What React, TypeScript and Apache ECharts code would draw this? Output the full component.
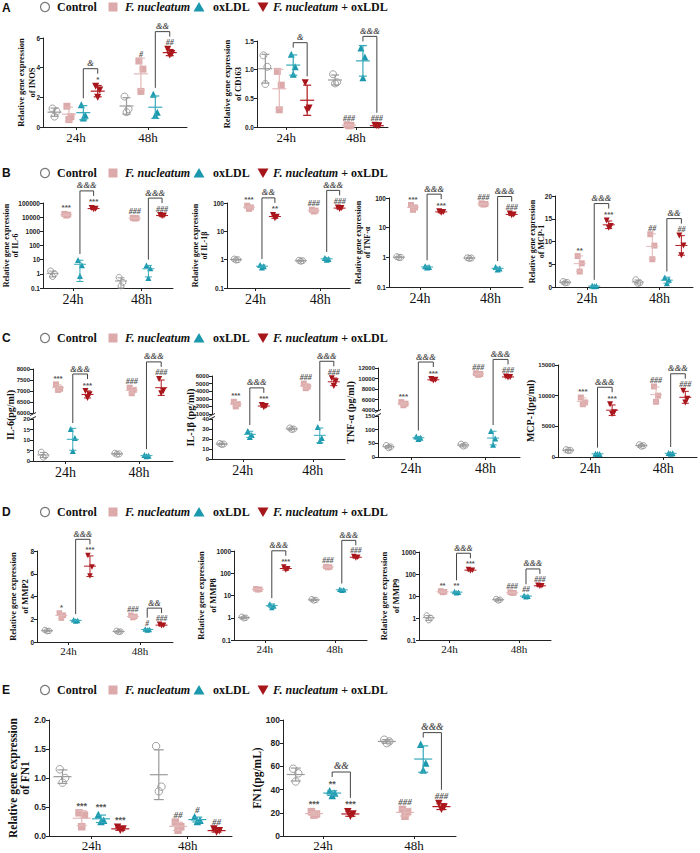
import React, { useEffect, useRef } from 'react';
import * as echarts from 'echarts';

// ---------------- data ----------------
const GROUPS = ['Control', 'F. nucleatum', 'oxLDL', 'F. nucleatum + oxLDL'];
const TIMES = ['24h', '48h'];
const ROW_LETTERS = ['A', 'B', 'C', 'D', 'E'];

const inosVals = [[1.25, 1.05, 0.7], [1.4, 0.7, 0.5], [1.5, 0.8, 0.6], [2.75, 2.5, 2.0], [2.05, 1.2, 1.0], [4.45, 3.9, 2.4], [2.2, 1.0, 0.8], [5.25, 4.95, 4.85]];
const inosMarks = ['', '', '', '*', '', '#', '', '##'];
const inosBr = ['&', '&&'];

const cd163Vals = [[1.25, 1.05, 0.75], [0.97, 0.73, 0.3], [1.27, 1.05, 0.92], [0.77, 0.33, 0.3], [0.92, 0.78, 0.76], [0.04, 0.03, 0.02], [1.38, 1.22, 0.86], [0.03, 0.02, 0.02]];
const cd163Marks = ['', '', '', '', '', '###', '', '###'];
const cd163Br = ['&', '&&&'];

const il6Vals = [[1.6, 1.0, 0.65], [17000, 15000, 13000], [9.5, 4.0, 0.7], [45000, 40000, 36000], [0.55, 0.25, 0.14], [9000, 8500, 8000], [3.8, 2.5, 0.5], [14000, 13000, 12000]];
const il6Marks = ['', '***', '', '***', '', '###', '', '###'];
const il6Br = ['&&&', '&&&'];

const il1bVals = [[1.05, 1.0, 0.97], [80, 70, 62], [0.65, 0.58, 0.53], [38, 33, 29], [0.95, 0.92, 0.88], [58, 54, 50], [1.15, 1.05, 1.0], [70, 66, 62]];
const il1bMarks = ['', '***', '', '**', '', '###', '', '###'];
const il1bBr = ['&&', '&&&'];

const tnfVals = [[1.05, 1.0, 0.98], [58, 48, 40], [0.5, 0.47, 0.45], [36, 34, 32], [0.97, 0.95, 0.92], [66, 63, 60], [0.47, 0.42, 0.39], [30, 28, 26]];
const tnfMarks = ['', '***', '', '***', '', '###', '', '###'];
const tnfBr = ['&&&', '&&&'];

const mcp1Vals = [[1.2, 1.0, 0.9], [6.8, 5.2, 3.4], [0.25, 0.2, 0.15], [14.6, 13.4, 13.0], [1.6, 0.9, 0.8], [11.6, 9.1, 6.1], [2.1, 1.6, 0.8], [11.3, 9.1, 7.0]];
const mcp1Marks = ['', '**', '', '***', '', '##', '', '##'];
const mcp1Br = ['&&&', '&&'];

const il6pgVals = [[4.2, 2.6, 1.8], [7300, 7100, 7050], [15.2, 11.0, 4.8], [7000, 6850, 6680], [3.7, 3.4, 3.2], [7150, 7050, 6900], [2.8, 2.5, 2.3], [7550, 7000, 6900]];
const il6pgMarks = ['', '***', '', '***', '', '###', '', '###'];
const il6pgBr = ['&&&', '&&&'];

const il1bpgVals = [[15.5, 15, 14.5], [2600, 2300, 2000], [28, 24, 22], [2200, 2050, 1900], [31, 30, 29.5], [5000, 4600, 4400], [32, 21, 18], [5700, 5300, 4700]];
const il1bpgMarks = ['', '***', '', '***', '', '###', '', '###'];
const il1bpgBr = ['&&&', '&&&'];

const tnfpgVals = [[42, 37, 34], [5500, 5200, 4900], [75, 70, 66], [9900, 9750, 9600], [47, 43, 40], [11000, 10850, 10700], [95, 68, 45], [10400, 10300, 10200]];
const tnfpgMarks = ['', '***', '', '***', '', '###', '', '###'];
const tnfpgBr = ['&&&', '&&&'];

const mcp1pgVals = [[1200, 1100, 1050], [9700, 8900, 8600], [550, 500, 480], [8600, 7300, 7000], [2000, 1850, 1750], [11500, 10000, 9000], [650, 600, 550], [10800, 9500, 8900]];
const mcp1pgMarks = ['', '***', '', '***', '', '###', '', '###'];
const mcp1pgBr = ['&&&', '&&&'];

const mmp2Vals = [[1.05, 0.98, 0.95], [2.55, 2.35, 2.1], [1.95, 1.9, 1.85], [7.6, 6.6, 5.8], [0.98, 0.92, 0.88], [2.35, 2.25, 2.15], [1.15, 1.1, 1.05], [1.55, 1.48, 1.42]];
const mmp2Marks = ['', '*', '', '***', '', '###', '#', '###'];
const mmp2Br = ['&&&', '&&'];

const mmp8Vals = [[1.1, 1.0, 0.95], [20, 19, 18], [4.2, 3.4, 2.9], [190, 160, 140], [6.8, 6.3, 6.0], [200, 190, 180], [19, 18, 17], [560, 520, 490]];
const mmp8Marks = ['', '', '', '***', '', '###', '', '###'];
const mmp8Br = ['&&&', '&&&'];

const mmp9Vals = [[1.3, 1.0, 0.8], [17, 15.5, 14.5], [16, 15, 14], [160, 150, 140], [7.3, 6.8, 6.3], [15, 14, 13.5], [10.5, 9.8, 9.3], [31, 29, 27.5]];
const mmp9Marks = ['', '**', '**', '***', '', '###', '##', '###'];
const mmp9Br = ['&&&', '&&&'];

const fn1Vals = [[1.15, 1.0, 0.92], [0.4, 0.36, 0.16], [0.37, 0.27, 0.25], [0.15, 0.12, 0.1], [1.55, 0.85, 0.77], [0.24, 0.16, 0.1], [0.33, 0.27, 0.25], [0.12, 0.09, 0.07]];
const fn1Marks = ['', '***', '***', '***', '', '##', '#', '##'];
const fn1Br = ['', ''];

const fn1pgVals = [[58, 54, 47], [21, 19, 18], [39, 37, 35], [21, 19, 17], [83, 81.5, 80], [23, 21, 17], [79, 63, 57], [28, 25, 23]];
const fn1pgMarks = ['', '***', '**', '***', '', '###', '', '###'];
const fn1pgBr = ['&&', '&&&'];

// ---------------- styles ----------------
const SERIF = '"Times New Roman", "Liberation Serif", "DejaVu Serif", serif';
const SANS = 'Arial, "Liberation Sans", Helvetica, sans-serif';
const PT_COLORS = ['#8a8a8a', '#dcaaaa', '#1b98ad', '#a5151a'];
const BAR_COLORS = ['#9a9a9a', '#e3b8b8', '#35a9bb', '#b0191f'];
const SYMBOLS = ['circle', 'rect', 'triangle', 'path://M0,0 L10,0 L5,9 Z'];
const JITTER = [-0.14, 0.14, 0];
const LEGEND_Y = [7, 173, 338, 512, 690];

const STY_A = { xfs: 13, yfs: 6.5, mfs: 8, sym: 7, mhw: 7, chw: 4, ylabFs: 8.5, ylabLh: 11, lw: 1.2, xlm: 4 };
const STY_B = { xfs: 14, yfs: 6.5, mfs: 8, sym: 6, mhw: 6, chw: 3.5, ylabFs: 8, ylabLh: 9.5, lw: 1, xlm: 4 };
const STY_C = { ...STY_B, yfs: 6, ylabFs: 10, ylabLh: 11 };
const STY_D = { xfs: 11, yfs: 6.5, mfs: 7.5, sym: 5.5, mhw: 6, chw: 3.5, ylabFs: 8.5, ylabLh: 12, lw: 1, xlm: 3 };
const STY_E = { xfs: 13, yfs: 8.5, mfs: 9, sym: 7.5, mhw: 9, chw: 5, ylabFs: 11.5, ylabLh: 12.5, lw: 1.2, xlm: 3 };

const fix1 = (v: number) => Number(v).toFixed(1);

const PANELS: any[] = [
  { vals: inosVals, marks: inosMarks, br: inosBr, left: 43, right: 187, xmin: 0.2, xmax: 10.2, segs: [{ top: 38, bottom: 127, min: 0, max: 6, interval: 2 }], ylab: 'Relative gene expression\nof INOS', ylabX: 26, ...STY_A },
  { vals: cd163Vals, marks: cd163Marks, br: cd163Br, left: 257, right: 388, xmin: 0.4, xmax: 9.8, fmt: fix1, segs: [{ top: 41, bottom: 127, min: 0, max: 1.5, interval: 0.5 }], ylab: 'Relative gene expression\nof CD163', ylabX: 232, ...STY_A },
  { vals: il6Vals, marks: il6Marks, br: il6Br, left: 43, right: 173, segs: [{ top: 203, bottom: 288, min: 0.1, max: 100000, log: true }], ylab: 'Relative gene expression\nof IL-6', ylabX: 11, ...STY_B, ylabLh: 9 },
  { vals: il1bVals, marks: il1bMarks, br: il1bBr, left: 227, right: 350, segs: [{ top: 203, bottom: 288, min: 0.1, max: 100, log: true }], ylab: 'Relative gene expression\nof IL-1β', ylabX: 200, ...STY_B },
  { vals: tnfVals, marks: tnfMarks, br: tnfBr, left: 389, right: 523, segs: [{ top: 198, bottom: 287, min: 0.1, max: 100, log: true }], ylab: 'Relative gene expression\nof TNF-α', ylabX: 363, ...STY_B },
  { vals: mcp1Vals, marks: mcp1Marks, br: mcp1Br, left: 555, right: 693, segs: [{ top: 196, bottom: 287, min: 0, max: 20, interval: 5 }], ylab: 'Relative gene expression\nof MCP-1', ylabX: 537, ...STY_B },
  { vals: il6pgVals, marks: il6pgMarks, br: il6pgBr, left: 33, right: 173, segs: [{ top: 369, bottom: 413, min: 6000, max: 8000, interval: 500 }, { top: 419, bottom: 461, min: 0, max: 20, interval: 5 }], ylab: 'IL-6(pg/ml)', ylabX: 10, ...STY_C },
  { vals: il1bpgVals, marks: il1bpgMarks, br: il1bpgBr, left: 212, right: 345, segs: [{ top: 376, bottom: 414, min: 1000, max: 6000, interval: 1000 }, { top: 419, bottom: 459, min: 0, max: 40, interval: 10 }], ylab: 'IL-1β (pg/ml)', ylabX: 190, ...STY_C },
  { vals: tnfpgVals, marks: tnfpgMarks, br: tnfpgBr, left: 378, right: 520, segs: [{ top: 368, bottom: 410, min: 4000, max: 12000, interval: 2000 }, { top: 416, bottom: 457, min: 0, max: 150, interval: 50 }], ylab: 'TNF-α (pg/ml)', ylabX: 350, ...STY_C },
  { vals: mcp1pgVals, marks: mcp1pgMarks, br: mcp1pgBr, left: 558, right: 697, segs: [{ top: 365, bottom: 457, min: 0, max: 15000, interval: 5000 }], ylab: 'MCP-1(pg/ml)', ylabX: 530, ...STY_C },
  { vals: mmp2Vals, marks: mmp2Marks, br: mmp2Br, left: 37, right: 173, segs: [{ top: 551, bottom: 642, min: 0, max: 8, interval: 2 }], ylab: 'Relative gene expression\nof MMP2', ylabX: 18.5, ...STY_D },
  { vals: mmp8Vals, marks: mmp8Marks, br: mmp8Br, left: 234, right: 367, segs: [{ top: 551, bottom: 640, min: 0.1, max: 1000, log: true }], ylab: 'Relative gene expression\nof MMP8', ylabX: 207, ...STY_D },
  { vals: mmp9Vals, marks: mmp9Marks, br: mmp9Br, left: 419, right: 551, segs: [{ top: 552, bottom: 640, min: 0.1, max: 1000, log: true }], ylab: 'Relative gene expression\nof MMP9', ylabX: 390, ...STY_D },
  { vals: fn1Vals, marks: fn1Marks, br: fn1Br, left: 49, right: 232, fmt: fix1, segs: [{ top: 720, bottom: 836, min: 0, max: 2, interval: 0.5 }], ylab: 'Relative gene expression\nof FN1', ylabX: 19, ...STY_E },
  { vals: fn1pgVals, marks: fn1pgMarks, br: fn1pgBr, left: 283, right: 456, segs: [{ top: 720, bottom: 836, min: 0, max: 100, interval: 20 }], ylab: 'FN1(pg/mL)', ylabX: 257, ...STY_E },
];

// ---------------- helpers ----------------
const pos = (t: number, g: number) => 1 + g + 5 * t;
const mean = (a: number[]) => a.reduce((s, v) => s + v, 0) / a.length;
const sdev = (a: number[]) => {
  const m = mean(a);
  return Math.sqrt(a.reduce((s, v) => s + (v - m) * (v - m), 0) / (a.length - 1));
};
const fmtDefault = (v: number) => String(parseFloat(Number(v).toPrecision(6)));

function makeRender(p: any) {
  return (params: any, api: any) => {
    const x = api.value(0), m = api.value(1), lo = api.value(2), hi = api.value(3), g = api.value(4);
    const c = api.coord([x, m]);
    const a = api.coord([x, hi]);
    const b = api.coord([x, lo]);
    const st = { stroke: BAR_COLORS[g], lineWidth: p.lw };
    return {
      type: 'group',
      children: [
        { type: 'line', shape: { x1: c[0] - p.mhw, y1: c[1], x2: c[0] + p.mhw, y2: c[1] }, style: st },
        { type: 'line', shape: { x1: c[0], y1: a[1], x2: c[0], y2: b[1] }, style: st },
        { type: 'line', shape: { x1: c[0] - p.chw, y1: a[1], x2: c[0] + p.chw, y2: a[1] }, style: st },
        { type: 'line', shape: { x1: c[0] - p.chw, y1: b[1], x2: c[0] + p.chw, y2: b[1] }, style: st },
      ],
    };
  };
}

function buildOption() {
  const grid: any[] = [], xAxis: any[] = [], yAxis: any[] = [], series: any[] = [];
  const segMaps: { gi: number[]; si: number[] }[] = [];
  PANELS.forEach((p) => {
    const gmap = new Array(8).fill(-1);
    const smap = new Array(8).fill(-1);
    const xmin = p.xmin ?? 0.3, xmax = p.xmax ?? 9.8;
    p.segs.forEach((s: any, si: number) => {
      const gi = grid.length;
      const isBottom = si === p.segs.length - 1;
      grid.push({ left: p.left, top: s.top, width: p.right - p.left, height: s.bottom - s.top, containLabel: false, outerBoundsMode: 'none' });
      xAxis.push({
        gridIndex: gi, type: 'value', min: xmin, max: xmax, show: isBottom,
        axisLine: { show: true, onZero: false, lineStyle: { color: '#222', width: 1 } },
        axisTick: { show: true, customValues: [2.5, 7.5], length: 3, lineStyle: { color: '#222' } },
        axisLabel: { customValues: [2.5, 7.5], formatter: (v: number) => (v < 5 ? TIMES[0] : TIMES[1]), fontFamily: SERIF, fontSize: p.xfs, color: '#111', margin: p.xlm },
        splitLine: { show: false },
      });
      yAxis.push({
        gridIndex: gi, type: s.log ? 'log' : 'value', min: s.min, max: s.max,
        ...(s.log ? { logBase: 10 } : { interval: s.interval }),
        axisLine: { show: true, onZero: false, lineStyle: { color: '#222', width: 1 } },
        axisTick: { show: true, length: 3, lineStyle: { color: '#222' } },
        axisLabel: { fontFamily: SANS, fontWeight: 'bold', fontSize: p.yfs, color: '#222', margin: 3, hideOverlap: false, showMinLabel: true, showMaxLabel: true, formatter: p.fmt || fmtDefault },
        splitLine: { show: false },
      });
      for (let i = 0; i < 8; i++) {
        const m = mean(p.vals[i]);
        if (p.segs.length === 1 || (m >= s.min && m <= s.max)) { gmap[i] = gi; smap[i] = si; }
      }
      for (let g = 0; g < 4; g++) {
        const data: number[][] = [];
        for (let t = 0; t < 2; t++) {
          const i = 4 * t + g;
          if (gmap[i] !== gi) continue;
          p.vals[i].forEach((v: number, k: number) => data.push([pos(t, g) + JITTER[k], v]));
        }
        series.push({
          type: 'scatter', name: GROUPS[g], xAxisIndex: gi, yAxisIndex: gi, data,
          symbol: SYMBOLS[g], symbolSize: p.sym, z: 2,
          itemStyle: g === 0
            ? { color: 'rgba(255,255,255,0)', borderColor: PT_COLORS[0], borderWidth: 1 }
            : { color: PT_COLORS[g], opacity: 1 },
          emphasis: { disabled: true },
        });
      }
      const bars: number[][] = [];
      for (let i = 0; i < 8; i++) {
        if (gmap[i] !== gi) continue;
        const t = Math.floor(i / 4), g = i % 4;
        const m = mean(p.vals[i]), d = sdev(p.vals[i]);
        bars.push([pos(t, g), m, Math.max(m - d, s.min), Math.min(m + d, s.max), g]);
      }
      series.push({ type: 'custom', xAxisIndex: gi, yAxisIndex: gi, data: bars, renderItem: makeRender(p), z: 3, silent: true, clip: false, encode: { x: 0, y: 1 } });
    });
    segMaps.push({ gi: gmap, si: smap });
  });
  return {
    option: { animation: false, textStyle: { fontFamily: SANS }, grid, xAxis, yAxis, series },
    segMaps,
  };
}

function buildGraphic(chart: any, segMaps: any[]) {
  const els: any[] = [];
  LEGEND_Y.forEach((y, r) => {
    els.push({ type: 'text', x: 2, y: r === 0 ? 8 : y, style: { text: ROW_LETTERS[r], fontFamily: SANS, fontWeight: 'bold', fontSize: 12, fill: '#111', verticalAlign: 'middle' } });
    els.push({ type: 'circle', shape: { cx: 45, cy: y, r: 4.5 }, style: { fill: '#fff', stroke: '#777', lineWidth: 1.2 } });
    els.push({ type: 'rect', shape: { x: 108.5, y: y - 4.5, width: 9, height: 9 }, style: { fill: PT_COLORS[1] } });
    els.push({ type: 'polygon', shape: { points: [[199, y - 5], [204.5, y + 4.5], [193.5, y + 4.5]] }, style: { fill: PT_COLORS[2] } });
    els.push({ type: 'polygon', shape: { points: [[257.5, y - 4.5], [268.5, y - 4.5], [263, y + 5]] }, style: { fill: PT_COLORS[3] } });
    const base = { fontFamily: SERIF, fontWeight: 'bold', fontSize: 12, fill: '#111', verticalAlign: 'middle' };
    els.push({ type: 'text', x: 57, y, style: { ...base, text: GROUPS[0] } });
    els.push({ type: 'text', x: 125, y, style: { ...base, fontStyle: 'italic', text: GROUPS[1] } });
    els.push({ type: 'text', x: 213, y, style: { ...base, text: GROUPS[2] } });
    els.push({
      type: 'text', x: 273, y,
      style: { ...base, text: '{i|F. nucleatum} + oxLDL', rich: { i: { fontFamily: SERIF, fontWeight: 'bold', fontStyle: 'italic', fontSize: 12, fill: '#111' } } },
    });
  });

  PANELS.forEach((p, pi) => {
    const { gi, si } = segMaps[pi];
    const top = p.segs[0].top, bot = p.segs[p.segs.length - 1].bottom;
    els.push({
      type: 'text', x: p.ylabX, y: (top + bot) / 2, rotation: Math.PI / 2,
      style: { text: p.ylab, fontFamily: SERIF, fontWeight: 'bold', fontSize: p.ylabFs, lineHeight: p.ylabLh, fill: '#111', align: 'center', verticalAlign: 'middle' },
    });
    if (p.segs.length > 1) {
      const x = p.left;
      const b = p.segs[0].bottom, t2 = p.segs[1].top;
      els.push({ type: 'line', shape: { x1: x - 3, y1: b + 2.5, x2: x + 3, y2: b - 0.5 }, style: { stroke: '#222', lineWidth: 1 } });
      els.push({ type: 'line', shape: { x1: x - 3, y1: t2 + 0.5, x2: x + 3, y2: t2 - 2.5 }, style: { stroke: '#222', lineWidth: 1 } });
    }
    const px = (i: number, x: number, v: number) => chart.convertToPixel({ gridIndex: gi[i] }, [x, v]);
    const topPx = (i: number) => {
      const t = Math.floor(i / 4), g = i % 4;
      const vals = p.vals[i];
      const s = p.segs[si[i]];
      const m = mean(vals), d = sdev(vals);
      const hi = Math.min(m + d, s.max);
      const y1 = px(i, pos(t, g), Math.max(...vals))[1] - p.sym / 2;
      const y2 = px(i, pos(t, g), hi)[1];
      return Math.min(y1, y2);
    };
    const markFont = (txt: string) => (txt.indexOf('*') >= 0
      ? { fontFamily: SANS, fontWeight: 'bold', fontStyle: 'normal' }
      : { fontFamily: SERIF, fontWeight: 'bold', fontStyle: 'italic' });
    for (let i = 0; i < 8; i++) {
      const txt = p.marks[i];
      if (!txt) continue;
      const t = Math.floor(i / 4), g = i % 4;
      const x = px(i, pos(t, g), p.vals[i][0])[0];
      els.push({ type: 'text', x, y: topPx(i) + 1, style: { text: txt, ...markFont(txt), fontSize: p.mfs, fill: '#555', align: 'center', verticalAlign: 'bottom' } });
    }
    for (let t = 0; t < 2; t++) {
      const txt = p.br[t];
      if (!txt) continue;
      const iL = 4 * t + 2, iR = 4 * t + 3;
      const legBottom = (i: number) => topPx(i) - (p.marks[i] ? p.mfs + 1 : 3);
      const yL = legBottom(iL), yR = legBottom(iR);
      const yTop = Math.min(yL, yR) - 5;
      const xL = px(iL, pos(t, 2), p.vals[iL][0])[0];
      const xR = px(iR, pos(t, 3), p.vals[iR][0])[0];
      els.push({ type: 'polyline', shape: { points: [[xL, yL], [xL, yTop], [xR, yTop], [xR, yR]] }, style: { stroke: '#444', lineWidth: 1, fill: 'none' } });
      els.push({ type: 'text', x: (xL + xR) / 2, y: yTop - 1, style: { text: txt, fontFamily: SERIF, fontStyle: 'italic', fontWeight: 'bold', fontSize: p.mfs + 0.5, fill: '#555', align: 'center', verticalAlign: 'bottom' } });
    }
  });
  return els;
}

export default function App() {
  const ref = useRef<HTMLDivElement>(null);
  useEffect(() => {
    if (!ref.current) return;
    const chart = echarts.init(ref.current, null, { renderer: 'svg' });
    const { option, segMaps } = buildOption();
    chart.setOption(option as any);
    const graphic = buildGraphic(chart, segMaps);
    chart.setOption({ graphic } as any);
    return () => chart.dispose();
  }, []);
  return <div ref={ref} style={{ position: 'absolute', left: 0, top: 0, width: 700, height: 853, background: '#fff' }} />;
}
